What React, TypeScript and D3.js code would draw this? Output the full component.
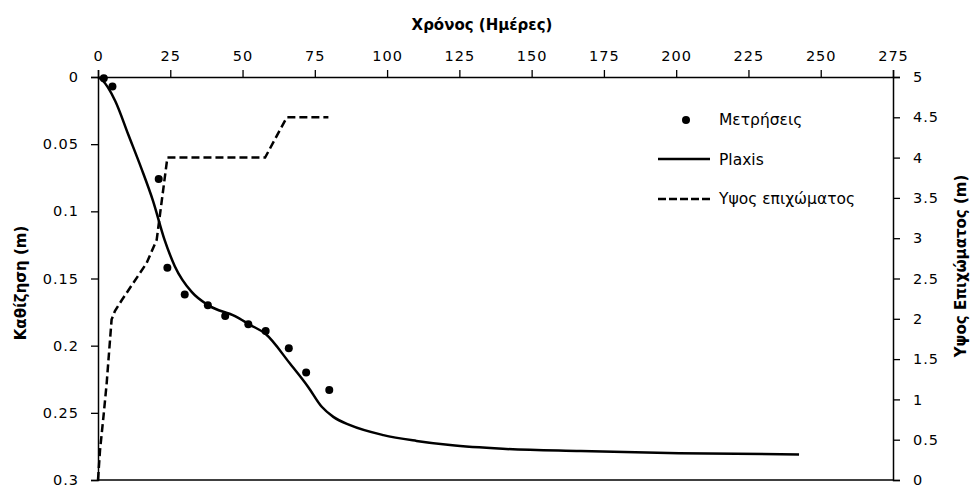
import React, { useEffect, useRef } from 'react';
import * as d3 from 'd3';

// Μετρήσεις: [ημέρες, καθίζηση m]
const measDays = [2, 5, 21, 24, 30, 38, 44, 52, 58, 66, 72, 80];
const measSettle = [0.001, 0.007, 0.076, 0.142, 0.162, 0.170, 0.178, 0.184, 0.189, 0.202, 0.220, 0.233];

// Plaxis
const plaxisDays = [0, 1.3, 6, 10.5, 15, 19, 23, 26.6, 32.4, 38.2, 47.4, 52.6, 57.8, 66.4, 72.7, 77.4, 81.4, 87.2, 98.7, 110.2, 121.8, 140, 167, 201, 242.5];
const plaxisSettle = [0, 0.002, 0.018, 0.043, 0.068, 0.092, 0.121, 0.141, 0.16, 0.17, 0.178, 0.1845, 0.191, 0.2133, 0.2307, 0.2455, 0.253, 0.2592, 0.2666, 0.2709, 0.274, 0.2768, 0.2785, 0.2801, 0.281];

// Ύψος επιχώματος (m)
const fillDays = [0, 0.7, 1.9, 3, 4.7, 5.9, 8.2, 16.8, 20.3, 24, 57.8, 65.3, 79.7];
const fillHeight = [0, 0.37, 0.79, 1.2, 1.99, 2.1, 2.23, 2.69, 2.98, 4.0, 4.0, 4.5, 4.5];

const xTicks = d3.range(0, 276, 25);
const yTicks = d3.range(0, 0.301, 0.05);
const y2Ticks = d3.range(0, 5.01, 0.5);

const FONT = 'DejaVu Sans';

const App = () => {
  const svgRef = useRef<SVGSVGElement>(null);

  useEffect(() => {
    const svg = d3.select(svgRef.current);
    svg.selectAll('*').remove();

    const left = 98, right = 893, top = 77, bottom = 480;

    const x = d3.scaleLinear().domain([0, 275]).range([left, right]);
    const y = d3.scaleLinear().domain([0, 0.3]).range([top, bottom]);
    const y2 = d3.scaleLinear().domain([0, 5]).range([bottom, top]);

    // άξονες
    const topAxis = svg.append('g').attr('transform', `translate(0,${top})`)
      .call(d3.axisTop(x).tickValues(xTicks).tickSize(7).tickPadding(9).tickFormat(d3.format('d')));
    const leftAxis = svg.append('g').attr('transform', `translate(${left},0)`)
      .call(d3.axisLeft(y).tickValues(yTicks).tickSize(7).tickPadding(12).tickFormat(d => String(+(+d).toFixed(2))));
    const rightAxis = svg.append('g').attr('transform', `translate(${right},0)`)
      .call(d3.axisRight(y2).tickValues(y2Ticks).tickSize(7).tickPadding(13).tickFormat(d => String(+(+d).toFixed(1))));

    [topAxis, leftAxis, rightAxis].forEach(a => {
      a.select('.domain').attr('stroke', '#000').attr('stroke-width', 1.5);
      a.selectAll('.tick line').attr('stroke', '#000').attr('stroke-width', 1.3);
      a.selectAll('.tick text')
        .attr('fill', '#000')
        .style('font-family', FONT)
        .style('font-size', '14.5px')
        .style('letter-spacing', '1px');
    });

    svg.append('line')
      .attr('x1', left).attr('x2', right).attr('y1', bottom).attr('y2', bottom)
      .attr('stroke', '#000').attr('stroke-width', 1.5);

    // τίτλοι
    svg.append('text')
      .attr('x', 482).attr('y', 30)
      .attr('text-anchor', 'middle')
      .style('font-family', FONT).style('font-weight', 'bold').style('font-size', '15px')
      .text('Χρόνος (Ημέρες)');

    svg.append('text')
      .attr('transform', 'translate(26,283) rotate(-90)')
      .attr('text-anchor', 'middle')
      .style('font-family', FONT).style('font-weight', 'bold').style('font-size', '15px')
      .text('Καθίζηση (m)');

    svg.append('text')
      .attr('transform', 'translate(966,266) rotate(-90)')
      .attr('text-anchor', 'middle')
      .style('font-family', FONT).style('font-weight', 'bold').style('font-size', '15px')
      .text('Υψος Επιχώματος (m)');

    // γραμμές
    const plaxisLine = d3.line<number>()
      .x((_, i) => x(plaxisDays[i]))
      .y(d => y(d))
      .curve(d3.curveMonotoneX);

    svg.append('path')
      .datum(plaxisSettle)
      .attr('d', plaxisLine)
      .attr('fill', 'none')
      .attr('stroke', '#000')
      .attr('stroke-width', 2.5);

    const fillLine = d3.line<number>()
      .x((_, i) => x(fillDays[i]))
      .y(d => y2(d));

    svg.append('path')
      .datum(fillHeight)
      .attr('d', fillLine)
      .attr('fill', 'none')
      .attr('stroke', '#000')
      .attr('stroke-width', 2.5)
      .attr('stroke-dasharray', '8,4');

    svg.selectAll('.meas')
      .data(measSettle)
      .enter()
      .append('circle')
      .attr('class', 'meas')
      .attr('cx', (_, i) => x(measDays[i]))
      .attr('cy', d => y(d))
      .attr('r', 4)
      .attr('fill', '#000');

    // υπόμνημα
    const legend = svg.append('g');
    legend.append('circle').attr('cx', 686).attr('cy', 120).attr('r', 4).attr('fill', '#000');
    legend.append('line').attr('x1', 658).attr('x2', 710).attr('y1', 159).attr('y2', 159)
      .attr('stroke', '#000').attr('stroke-width', 2.5);
    legend.append('line').attr('x1', 658).attr('x2', 710).attr('y1', 199).attr('y2', 199)
      .attr('stroke', '#000').attr('stroke-width', 2.5).attr('stroke-dasharray', '8,3');

    const labels = ['Μετρήσεις', 'Plaxis', 'Υψος επιχώματος'];
    labels.forEach((t, i) => {
      legend.append('text')
        .attr('x', 719).attr('y', 120 + i * 39.5)
        .attr('dy', '0.35em')
        .style('font-family', FONT).style('font-size', '15.5px')
        .text(t);
    });
  }, []);

  return (
    <svg ref={svgRef} width={971} height={489} style={{ position: 'absolute', left: 0, top: 0, background: '#fff' }} />
  );
};

export default App;
